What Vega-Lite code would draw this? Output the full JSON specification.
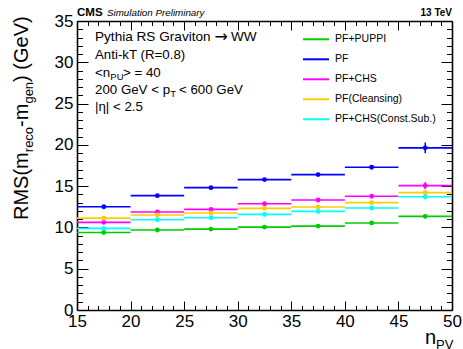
{
 "$schema": "https://vega.github.io/schema/vega-lite/v6.json",
 "width": 375, "height": 289,
 "autosize": {"type": "none"},
 "padding": {"left": 77, "top": 21, "right": 11, "bottom": 39},
 "background": "white",
 "config": {"font": "Liberation Sans", "view": {"stroke": null},
   "axis": {"grid": false, "domainColor": "black", "domainWidth": 1.6, "tickColor": "black", "tickWidth": 1, "labelColor": "black", "labelFont": "Liberation Sans", "labelFontSize": 17, "labelOverlap": false, "labelFlush": false, "labelBound": false}},
 "datasets": {"d": [
  {"alg":"PF+PUPPI","xlo":15,"xhi":20,"x":17.5,"val":9.39,"lo":9.27,"hi":9.51},
  {"alg":"PF+PUPPI","xlo":20,"xhi":25,"x":22.5,"val":9.68,"lo":9.58,"hi":9.78},
  {"alg":"PF+PUPPI","xlo":25,"xhi":30,"x":27.5,"val":9.80,"lo":9.70,"hi":9.90},
  {"alg":"PF+PUPPI","xlo":30,"xhi":35,"x":32.5,"val":10.04,"lo":9.94,"hi":10.14},
  {"alg":"PF+PUPPI","xlo":35,"xhi":40,"x":37.5,"val":10.16,"lo":10.04,"hi":10.28},
  {"alg":"PF+PUPPI","xlo":40,"xhi":45,"x":42.5,"val":10.53,"lo":10.38,"hi":10.68},
  {"alg":"PF+PUPPI","xlo":45,"xhi":50,"x":47.5,"val":11.34,"lo":11.09,"hi":11.59},
  {"alg":"PF","xlo":15,"xhi":20,"x":17.5,"val":12.51,"lo":12.31,"hi":12.71},
  {"alg":"PF","xlo":20,"xhi":25,"x":22.5,"val":13.85,"lo":13.70,"hi":14.00},
  {"alg":"PF","xlo":25,"xhi":30,"x":27.5,"val":14.82,"lo":14.67,"hi":14.97},
  {"alg":"PF","xlo":30,"xhi":35,"x":32.5,"val":15.79,"lo":15.64,"hi":15.94},
  {"alg":"PF","xlo":35,"xhi":40,"x":37.5,"val":16.40,"lo":16.25,"hi":16.55},
  {"alg":"PF","xlo":40,"xhi":45,"x":42.5,"val":17.29,"lo":17.09,"hi":17.49},
  {"alg":"PF","xlo":45,"xhi":50,"x":47.5,"val":19.64,"lo":18.99,"hi":20.29},
  {"alg":"PF+CHS","xlo":15,"xhi":20,"x":17.5,"val":10.61,"lo":10.46,"hi":10.76},
  {"alg":"PF+CHS","xlo":20,"xhi":25,"x":22.5,"val":11.86,"lo":11.74,"hi":11.98},
  {"alg":"PF+CHS","xlo":25,"xhi":30,"x":27.5,"val":12.19,"lo":12.07,"hi":12.31},
  {"alg":"PF+CHS","xlo":30,"xhi":35,"x":32.5,"val":12.87,"lo":12.75,"hi":12.99},
  {"alg":"PF+CHS","xlo":35,"xhi":40,"x":37.5,"val":13.32,"lo":13.17,"hi":13.47},
  {"alg":"PF+CHS","xlo":40,"xhi":45,"x":42.5,"val":13.77,"lo":13.57,"hi":13.97},
  {"alg":"PF+CHS","xlo":45,"xhi":50,"x":47.5,"val":15.06,"lo":14.61,"hi":15.51},
  {"alg":"PF(Cleansing)","xlo":15,"xhi":20,"x":17.5,"val":11.13,"lo":10.98,"hi":11.28},
  {"alg":"PF(Cleansing)","xlo":20,"xhi":25,"x":22.5,"val":11.50,"lo":11.38,"hi":11.62},
  {"alg":"PF(Cleansing)","xlo":25,"xhi":30,"x":27.5,"val":11.74,"lo":11.62,"hi":11.86},
  {"alg":"PF(Cleansing)","xlo":30,"xhi":35,"x":32.5,"val":12.31,"lo":12.19,"hi":12.43},
  {"alg":"PF(Cleansing)","xlo":35,"xhi":40,"x":37.5,"val":12.47,"lo":12.32,"hi":12.62},
  {"alg":"PF(Cleansing)","xlo":40,"xhi":45,"x":42.5,"val":13.00,"lo":12.80,"hi":13.20},
  {"alg":"PF(Cleansing)","xlo":45,"xhi":50,"x":47.5,"val":14.21,"lo":13.86,"hi":14.56},
  {"alg":"PF+CHS(Const.Sub.)","xlo":15,"xhi":20,"x":17.5,"val":9.88,"lo":9.73,"hi":10.03},
  {"alg":"PF+CHS(Const.Sub.)","xlo":20,"xhi":25,"x":22.5,"val":10.93,"lo":10.81,"hi":11.05},
  {"alg":"PF+CHS(Const.Sub.)","xlo":25,"xhi":30,"x":27.5,"val":11.17,"lo":11.05,"hi":11.29},
  {"alg":"PF+CHS(Const.Sub.)","xlo":30,"xhi":35,"x":32.5,"val":11.58,"lo":11.46,"hi":11.70},
  {"alg":"PF+CHS(Const.Sub.)","xlo":35,"xhi":40,"x":37.5,"val":11.94,"lo":11.79,"hi":12.09},
  {"alg":"PF+CHS(Const.Sub.)","xlo":40,"xhi":45,"x":42.5,"val":12.35,"lo":12.15,"hi":12.55},
  {"alg":"PF+CHS(Const.Sub.)","xlo":45,"xhi":50,"x":47.5,"val":13.72,"lo":13.37,"hi":14.07}
 ]},
 "data": {"name": "d"},
 "resolve": {"axis": {"x": "independent", "y": "independent"}},
 "layer": [
  {"mark": {"type": "rule", "strokeWidth": 1.6},
   "encoding": {
    "x": {"field": "xlo", "type": "quantitative", "scale": {"domain": [15, 50], "nice": false},
      "axis": {"orient": "bottom", "title": null, "values": [15,16,17,18,19,20,21,22,23,24,25,26,27,28,29,30,31,32,33,34,35,36,37,38,39,40,41,42,43,44,45,46,47,48,49,50],
        "labelExpr": "datum.value % 5 === 0 ? datum.label : ''",
        "tickSize": {"condition": {"test": "datum.value % 5 === 0", "value": -9}, "value": -4.5},
        "labelPadding": 12}},
    "x2": {"field": "xhi"},
    "y": {"field": "val", "type": "quantitative", "scale": {"domain": [0, 35], "nice": false, "zero": false},
      "axis": {"orient": "left", "title": null, "values": [0,1,2,3,4,5,6,7,8,9,10,11,12,13,14,15,16,17,18,19,20,21,22,23,24,25,26,27,28,29,30,31,32,33,34,35],
        "labelExpr": "datum.value % 5 === 0 ? datum.label : ''",
        "tickSize": {"condition": {"test": "datum.value % 5 === 0", "value": -11}, "value": -5.5},
        "labelPadding": 15}},
    "color": {"field": "alg", "type": "nominal",
      "scale": {"domain": ["PF+PUPPI", "PF", "PF+CHS", "PF(Cleansing)", "PF+CHS(Const.Sub.)"], "range": ["#00cc00", "#0000ff", "#ff00ff", "#ffcc00", "#00ffff"]},
      "legend": {"title": null, "orient": "none", "legendX": 225, "legendY": 4.3, "symbolType": "stroke", "symbolSize": 676, "symbolStrokeWidth": 2, "labelFontSize": 10.5, "labelFont": "Liberation Sans", "labelColor": "black", "rowPadding": -3.3, "labelOffset": 5}}
   }},
  {"mark": {"type": "rule", "strokeWidth": 1.5},
   "encoding": {
    "x": {"field": "x", "type": "quantitative", "scale": {"domain": [15, 50], "nice": false},
      "axis": {"orient": "top", "title": null, "labels": false, "values": [15,16,17,18,19,20,21,22,23,24,25,26,27,28,29,30,31,32,33,34,35,36,37,38,39,40,41,42,43,44,45,46,47,48,49,50],
        "tickSize": {"condition": {"test": "datum.value % 5 === 0", "value": -9}, "value": -4.5}}},
    "y": {"field": "lo", "type": "quantitative", "scale": {"domain": [0, 35], "nice": false, "zero": false},
      "axis": {"orient": "right", "title": null, "labels": false, "values": [0,1,2,3,4,5,6,7,8,9,10,11,12,13,14,15,16,17,18,19,20,21,22,23,24,25,26,27,28,29,30,31,32,33,34,35],
        "tickSize": {"condition": {"test": "datum.value % 5 === 0", "value": -11}, "value": -5.5}}},
    "y2": {"field": "hi"},
    "color": {"field": "alg", "type": "nominal"}
   }},
  {"mark": {"type": "point", "filled": true, "opacity": 1, "size": 24, "shape": "circle"},
   "encoding": {
    "x": {"field": "x", "type": "quantitative", "scale": {"domain": [15, 50], "nice": false}, "axis": null},
    "y": {"field": "val", "type": "quantitative", "scale": {"domain": [0, 35], "nice": false, "zero": false}, "axis": null},
    "color": {"field": "alg", "type": "nominal"}
   }},
  {"data": {"values": [{}]}, "mark": {"type": "text", "text": "CMS", "align": "left", "baseline": "alphabetic", "fontSize": 11.5, "fontWeight": "bold", "font": "Liberation Sans"},
   "encoding": {"x": {"datum": 15, "type": "quantitative", "scale": {"domain": [15, 50], "nice": false}, "axis": null}, "y": {"datum": 35.6, "type": "quantitative", "scale": {"domain": [0, 35], "nice": false, "zero": false}, "axis": null}}},
  {"data": {"values": [{}]}, "mark": {"type": "text", "text": "Simulation Preliminary", "align": "left", "baseline": "alphabetic", "dx": 30, "fontSize": 9.8, "fontStyle": "italic", "font": "Liberation Sans"},
   "encoding": {"x": {"datum": 15, "type": "quantitative", "scale": {"domain": [15, 50], "nice": false}, "axis": null}, "y": {"datum": 35.6, "type": "quantitative", "scale": {"domain": [0, 35], "nice": false, "zero": false}, "axis": null}}},
  {"data": {"values": [{}]}, "mark": {"type": "text", "text": "13 TeV", "align": "right", "baseline": "alphabetic", "fontSize": 10, "fontWeight": "bold", "font": "Liberation Sans"},
   "encoding": {"x": {"datum": 50, "type": "quantitative", "scale": {"domain": [15, 50], "nice": false}, "axis": null}, "y": {"datum": 35.6, "type": "quantitative", "scale": {"domain": [0, 35], "nice": false, "zero": false}, "axis": null}}},
  {"data": {"values": [{}]}, "mark": {"type": "text", "text": "Pythia RS Graviton", "align": "left", "baseline": "middle", "fontSize": 13.6, "font": "Liberation Sans"},
   "encoding": {"x": {"datum": 16.68, "type": "quantitative", "scale": {"domain": [15, 50], "nice": false}, "axis": null}, "y": {"datum": 33.1, "type": "quantitative", "scale": {"domain": [0, 35], "nice": false, "zero": false}, "axis": null}}},
  {"data": {"values": [{}]}, "mark": {"type": "text", "text": "→", "align": "left", "baseline": "middle", "dx": 119.5, "fontSize": 16, "font": "DejaVu Sans"},
   "encoding": {"x": {"datum": 16.68, "type": "quantitative", "scale": {"domain": [15, 50], "nice": false}, "axis": null}, "y": {"datum": 33.1, "type": "quantitative", "scale": {"domain": [0, 35], "nice": false, "zero": false}, "axis": null}}},
  {"data": {"values": [{}]}, "mark": {"type": "text", "text": "WW", "align": "left", "baseline": "middle", "dx": 136, "fontSize": 13.6, "font": "Liberation Sans"},
   "encoding": {"x": {"datum": 16.68, "type": "quantitative", "scale": {"domain": [15, 50], "nice": false}, "axis": null}, "y": {"datum": 33.1, "type": "quantitative", "scale": {"domain": [0, 35], "nice": false, "zero": false}, "axis": null}}},
  {"data": {"values": [{}]}, "mark": {"type": "text", "text": "Anti-kT (R=0.8)", "align": "left", "baseline": "middle", "fontSize": 13.3, "font": "Liberation Sans"},
   "encoding": {"x": {"datum": 16.68, "type": "quantitative", "scale": {"domain": [15, 50], "nice": false}, "axis": null}, "y": {"datum": 30.88, "type": "quantitative", "scale": {"domain": [0, 35], "nice": false, "zero": false}, "axis": null}}},
  {"data": {"values": [{}]}, "mark": {"type": "text", "text": "<n", "align": "left", "baseline": "middle", "fontSize": 13.3, "font": "Liberation Sans"},
   "encoding": {"x": {"datum": 16.68, "type": "quantitative", "scale": {"domain": [15, 50], "nice": false}, "axis": null}, "y": {"datum": 28.74, "type": "quantitative", "scale": {"domain": [0, 35], "nice": false, "zero": false}, "axis": null}}},
  {"data": {"values": [{}]}, "mark": {"type": "text", "text": "PU", "align": "left", "baseline": "middle", "dx": 15.3, "dy": 4, "fontSize": 9.5, "font": "Liberation Sans"},
   "encoding": {"x": {"datum": 16.68, "type": "quantitative", "scale": {"domain": [15, 50], "nice": false}, "axis": null}, "y": {"datum": 28.74, "type": "quantitative", "scale": {"domain": [0, 35], "nice": false, "zero": false}, "axis": null}}},
  {"data": {"values": [{}]}, "mark": {"type": "text", "text": "> = 40", "align": "left", "baseline": "middle", "dx": 28, "fontSize": 13.3, "font": "Liberation Sans"},
   "encoding": {"x": {"datum": 16.68, "type": "quantitative", "scale": {"domain": [15, 50], "nice": false}, "axis": null}, "y": {"datum": 28.74, "type": "quantitative", "scale": {"domain": [0, 35], "nice": false, "zero": false}, "axis": null}}},
  {"data": {"values": [{}]}, "mark": {"type": "text", "text": "200 GeV < p", "align": "left", "baseline": "middle", "fontSize": 13.3, "font": "Liberation Sans"},
   "encoding": {"x": {"datum": 16.68, "type": "quantitative", "scale": {"domain": [15, 50], "nice": false}, "axis": null}, "y": {"datum": 26.65, "type": "quantitative", "scale": {"domain": [0, 35], "nice": false, "zero": false}, "axis": null}}},
  {"data": {"values": [{}]}, "mark": {"type": "text", "text": "T", "align": "left", "baseline": "middle", "dx": 75.3, "dy": 4, "fontSize": 9.5, "font": "Liberation Sans"},
   "encoding": {"x": {"datum": 16.68, "type": "quantitative", "scale": {"domain": [15, 50], "nice": false}, "axis": null}, "y": {"datum": 26.65, "type": "quantitative", "scale": {"domain": [0, 35], "nice": false, "zero": false}, "axis": null}}},
  {"data": {"values": [{}]}, "mark": {"type": "text", "text": "< 600 GeV", "align": "left", "baseline": "middle", "dx": 84, "fontSize": 13.3, "font": "Liberation Sans"},
   "encoding": {"x": {"datum": 16.68, "type": "quantitative", "scale": {"domain": [15, 50], "nice": false}, "axis": null}, "y": {"datum": 26.65, "type": "quantitative", "scale": {"domain": [0, 35], "nice": false, "zero": false}, "axis": null}}},
  {"data": {"values": [{}]}, "mark": {"type": "text", "text": "|η| < 2.5", "align": "left", "baseline": "middle", "fontSize": 13.3, "font": "Liberation Sans"},
   "encoding": {"x": {"datum": 16.68, "type": "quantitative", "scale": {"domain": [15, 50], "nice": false}, "axis": null}, "y": {"datum": 24.55, "type": "quantitative", "scale": {"domain": [0, 35], "nice": false, "zero": false}, "axis": null}}},
  {"data": {"values": [{}]}, "mark": {"type": "text", "text": "RMS(m", "angle": 270, "align": "left", "baseline": "alphabetic", "fontSize": 20, "font": "Liberation Sans"},
   "encoding": {"x": {"datum": 10.43, "type": "quantitative", "scale": {"domain": [15, 50], "nice": false}, "axis": null}, "y": {"datum": 10.9, "type": "quantitative", "scale": {"domain": [0, 35], "nice": false, "zero": false}, "axis": null}}},
  {"data": {"values": [{}]}, "mark": {"type": "text", "text": "reco", "angle": 270, "align": "left", "baseline": "alphabetic", "dx": 67.8, "dy": 4.5, "fontSize": 13, "font": "Liberation Sans"},
   "encoding": {"x": {"datum": 10.43, "type": "quantitative", "scale": {"domain": [15, 50], "nice": false}, "axis": null}, "y": {"datum": 10.9, "type": "quantitative", "scale": {"domain": [0, 35], "nice": false, "zero": false}, "axis": null}}},
  {"data": {"values": [{}]}, "mark": {"type": "text", "text": "-m", "angle": 270, "align": "left", "baseline": "alphabetic", "dx": 93.1, "fontSize": 20, "font": "Liberation Sans"},
   "encoding": {"x": {"datum": 10.43, "type": "quantitative", "scale": {"domain": [15, 50], "nice": false}, "axis": null}, "y": {"datum": 10.9, "type": "quantitative", "scale": {"domain": [0, 35], "nice": false, "zero": false}, "axis": null}}},
  {"data": {"values": [{}]}, "mark": {"type": "text", "text": "gen", "angle": 270, "align": "left", "baseline": "alphabetic", "dx": 116.4, "dy": 4.5, "fontSize": 13, "font": "Liberation Sans"},
   "encoding": {"x": {"datum": 10.43, "type": "quantitative", "scale": {"domain": [15, 50], "nice": false}, "axis": null}, "y": {"datum": 10.9, "type": "quantitative", "scale": {"domain": [0, 35], "nice": false, "zero": false}, "axis": null}}},
  {"data": {"values": [{}]}, "mark": {"type": "text", "text": ") (GeV)", "angle": 270, "align": "left", "baseline": "alphabetic", "dx": 138.1, "fontSize": 20, "font": "Liberation Sans"},
   "encoding": {"x": {"datum": 10.43, "type": "quantitative", "scale": {"domain": [15, 50], "nice": false}, "axis": null}, "y": {"datum": 10.9, "type": "quantitative", "scale": {"domain": [0, 35], "nice": false, "zero": false}, "axis": null}}},
  {"data": {"values": [{}]}, "mark": {"type": "text", "text": "n", "align": "left", "baseline": "alphabetic", "fontSize": 20, "font": "Liberation Sans"},
   "encoding": {"x": {"datum": 47.48, "type": "quantitative", "scale": {"domain": [15, 50], "nice": false}, "axis": null}, "y": {"datum": -4.12, "type": "quantitative", "scale": {"domain": [0, 35], "nice": false, "zero": false}, "axis": null}}},
  {"data": {"values": [{}]}, "mark": {"type": "text", "text": "PV", "align": "left", "baseline": "alphabetic", "dx": 11.1, "dy": 4.5, "fontSize": 13, "font": "Liberation Sans"},
   "encoding": {"x": {"datum": 47.48, "type": "quantitative", "scale": {"domain": [15, 50], "nice": false}, "axis": null}, "y": {"datum": -4.12, "type": "quantitative", "scale": {"domain": [0, 35], "nice": false, "zero": false}, "axis": null}}}
 ]
}
